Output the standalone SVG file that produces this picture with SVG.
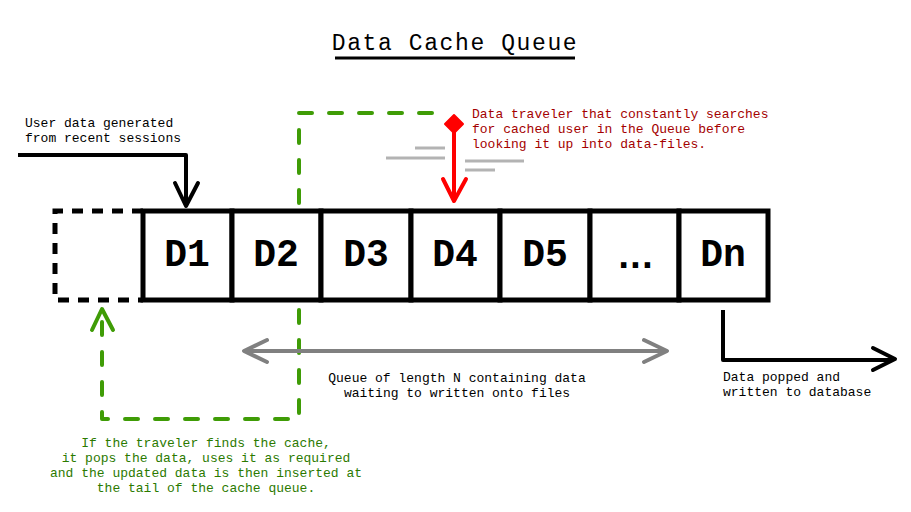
<svg xmlns="http://www.w3.org/2000/svg" width="911" height="512" viewBox="0 0 911 512">
<style>
.mono{font-family:"Liberation Mono","Courier New",monospace}
.small{font-size:13px}
.cell{fill:#fff;stroke:#000;stroke-width:5}
.lbl{font-family:"Liberation Mono","Courier New",monospace;font-size:38px;font-weight:bold;text-anchor:middle;fill:#000}
.green{fill:none;stroke:#3f9c06;stroke-width:4;stroke-linecap:round;stroke-linejoin:round}
.gd{stroke-dasharray:13 17}
</style>
<rect width="911" height="512" fill="#fff"/>
<g id="title">
<text class="mono" x="455" y="50" font-size="23" letter-spacing="1.6" text-anchor="middle">Data Cache Queue</text>
<line x1="335" y1="58" x2="575" y2="58" stroke="#000" stroke-width="3"/>
</g>
<g id="connectors">
<path class="green gd" d="M102,322 V419 H299 V113 H440"/>
<path class="green" d="M92,330 L102,309 L113,330"/>
<path d="M18,155 H186 V205" fill="none" stroke="#000" stroke-width="4" stroke-linejoin="round"/>
<path d="M175,183 L186,206 L198,183" fill="none" stroke="#000" stroke-width="4" stroke-linecap="round" stroke-linejoin="round"/>
<line x1="454" y1="124" x2="454" y2="200" stroke="#ff0000" stroke-width="4"/>
<path d="M443,179 L454,201 L466,179" fill="none" stroke="#ff0000" stroke-width="4" stroke-linecap="round" stroke-linejoin="round"/>
<path d="M454,115 L463,124 L454,133 L445,124 Z" fill="#ff0000" stroke="#ff0000" stroke-width="2" stroke-linejoin="round"/>
<g stroke="#b3b3b3" stroke-width="3">
<line x1="415" y1="148" x2="445" y2="148"/>
<line x1="386" y1="158" x2="445" y2="158"/>
<line x1="465" y1="161" x2="524" y2="161"/>
<line x1="465" y1="170" x2="495" y2="170"/>
</g>
<line x1="246" y1="351" x2="665" y2="351" stroke="#808080" stroke-width="4"/>
<path d="M267,340 L244,351 L267,362 M644,340 L667,351 L644,362" fill="none" stroke="#808080" stroke-width="4" stroke-linecap="round" stroke-linejoin="round"/>
<path d="M723,310 V360 H893" fill="none" stroke="#000" stroke-width="4" stroke-linejoin="round"/>
<path d="M873,348 L895,359 L873,370" fill="none" stroke="#000" stroke-width="4" stroke-linecap="round" stroke-linejoin="round"/>
</g>
<g id="empty-slot">
<path d="M143,211 H55 V300 H143" fill="none" stroke="#000" stroke-width="5" stroke-dasharray="11 9"/>
</g>
<g id="queue">
<rect class="cell" x="143" y="211" width="89" height="89"/>
<rect class="cell" x="232" y="211" width="89" height="89"/>
<rect class="cell" x="321" y="211" width="90" height="89"/>
<rect class="cell" x="411" y="211" width="89" height="89"/>
<rect class="cell" x="500" y="211" width="90" height="89"/>
<rect class="cell" x="590" y="211" width="89" height="89"/>
<rect class="cell" x="679" y="211" width="89" height="89"/>
<text class="lbl" x="187" y="266">D1</text>
<text class="lbl" x="276" y="266">D2</text>
<text class="lbl" x="366" y="266">D3</text>
<text class="lbl" x="455" y="266">D4</text>
<text class="lbl" x="545" y="266">D5</text>
<text class="lbl" x="630" y="268" letter-spacing="-11">...</text>
<text class="lbl" x="723" y="266">Dn</text>
</g>
<g id="input-label" class="mono small">
<text x="25" y="127">User data generated</text>
<text x="25" y="142">from recent sessions</text>
</g>
<g id="traveler-label" class="mono small" fill="#a40000">
<text x="472" y="118">Data traveler that constantly searches</text>
<text x="472" y="133">for cached user in the Queue before</text>
<text x="472" y="148">looking it up into data-files.</text>
</g>
<g id="queue-label" class="mono small" text-anchor="middle">
<text x="457" y="382">Queue of length N containing data</text>
<text x="457" y="397">waiting to written onto files</text>
</g>
<g id="output-label" class="mono small">
<text x="723" y="381">Data popped and</text>
<text x="723" y="396">written to database</text>
</g>
<g id="cache-label" class="mono small" fill="#2b7a00" text-anchor="middle">
<text x="206" y="447">If the traveler finds the cache,</text>
<text x="206" y="462">it pops the data, uses it as required</text>
<text x="206" y="477">and the updated data is then inserted at</text>
<text x="206" y="492">the tail of the cache queue.</text>
</g>
</svg>
